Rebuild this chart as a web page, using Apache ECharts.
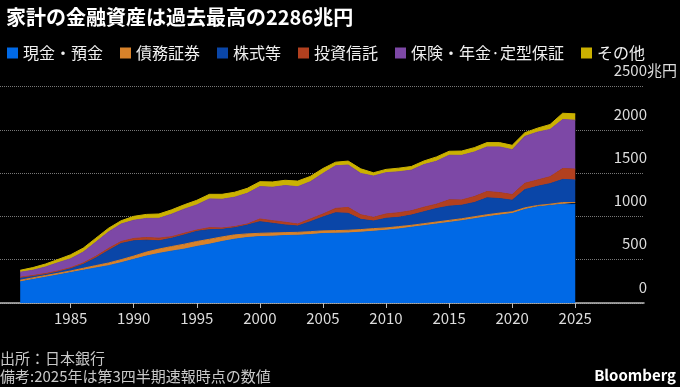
<!DOCTYPE html>
<html><head><meta charset="utf-8">
<script src="https://cdn.jsdelivr.net/npm/echarts@6/dist/echarts.min.js"></script>
<style>html,body{margin:0;padding:0;background:#000;}#c{width:680px;height:387px;}</style>
</head><body><div id="c"></div>
<script>
const years = [1981,1982,1983,1984,1985,1986,1987,1988,1989,1990,
  1991,1992,1993,1994,1995,1996,1997,1998,1999,2000,
  2001,2002,2003,2004,2005,2006,2007,2008,2009,2010,
  2011,2012,2013,2014,2015,2016,2017,2018,2019,2020,
  2021,2022,2023,2024,2025];
const cash = [244,271,298,324,351,378,405,431,466,504,
  542,573,599,622,653,679,710,737,756,767,
  771,779,782,790,802,805,809,817,828,840,
  855,874,893,912,931,950,973,996,1015,1034,
  1080,1111,1126,1141,1141];
const bonds = [19,19,19,19,19,23,27,31,34,38,
  46,50,53,57,57,57,53,50,42,38,
  38,34,34,34,31,31,31,31,31,27,
  27,23,23,23,23,23,23,23,23,19,
  19,15,15,19,19];
const equities = [27,19,15,19,27,46,88,145,187,176,
  137,95,95,107,118,111,88,84,103,134,
  111,88,73,115,160,206,195,118,88,111,
  107,118,137,156,164,156,164,195,168,134,
  210,221,237,267,260];
const trusts = [8,8,8,8,11,15,19,23,23,27,
  31,31,19,19,15,23,15,11,11,31,
  31,31,23,31,34,50,69,53,42,50,
  53,50,53,50,73,61,69,73,69,65,
  73,73,80,126,126];
const insurance = [57,61,76,95,103,126,164,191,202,210,
  221,229,260,279,290,332,332,340,355,374,
  386,424,431,431,469,492,489,477,477,477,
  473,469,492,496,515,515,515,515,527,519,
  542,553,546,565,565];
const other = [23,31,34,38,46,46,46,42,38,46,
  46,50,50,50,53,53,57,57,57,57,
  61,61,65,61,57,42,46,53,38,38,
  42,42,42,50,46,50,50,50,50,50,
  42,46,57,73,73];
const seriesNames = ['現金・預金','債務証券','株式等','投資信託','保険・年金·定型保証','その他'];
const seriesValues = [cash, bonds, equities, trusts, insurance, other];
const colors = ['#0069E6','#D8822A','#0A46A8','#B2401F','#7D48A6','#CBB100'];
const xTicks = [1985,1990,1995,2000,2005,2010,2015,2020,2025];
const xMinYear = 1979.4, xMaxYear = 2030.45;
const yMax = 2500, yStep = 500, yUnit = '兆円';

const FONT = "'Noto Sans CJK JP','Noto Sans',sans-serif";
const chart = echarts.init(document.getElementById('c'), null, {renderer:'canvas'});
chart.setOption({
  backgroundColor: '#000',
  animation: false,
  title: {
    text: '家計の金融資産は過去最高の2286兆円',
    left: 1, top: 2,
    textStyle: {color:'#fff', fontSize: 20, fontWeight:'bold', fontFamily: FONT}
  },
  legend: {
    left: 2, top: 40, icon: 'rect', itemWidth: 11, itemHeight: 11, itemGap: 17,
    textStyle: {color:'#f0f0f0', fontSize: 16, fontFamily: FONT},
    data: seriesNames
  },
  grid: {left: 0, right: 33, top: 86.5, bottom: 84, containLabel: false},
  xAxis: {
    type: 'value', min: xMinYear, max: xMaxYear,
    axisLine: {show: true, lineStyle: {color: '#bbb', width: 1.5}},
    axisTick: {show: true, customValues: xTicks, length: 5, lineStyle: {color: '#bbb'}},
    axisLabel: {customValues: xTicks, color: '#ddd', fontSize: 15, margin: 8, fontFamily: FONT,
      formatter: v => String(v)},
    splitLine: {show: false}
  },
  yAxis: {
    type: 'value', position: 'right', min: 0, max: yMax, interval: yStep,
    axisLine: {show: false}, axisTick: {show: false},
    splitLine: {lineStyle: {color: '#777', type: 'dotted', width: 1}},
    axisLabel: {
      margin: 33, align: 'right', verticalAlign: 'bottom', padding: [0,0,7,0],
      formatter: v => v === yMax ? '{n|' + v + '}{u|' + yUnit + '}' : '{n|' + v + '}{h|' + yUnit + '}',
      rich: {
        n: {color: '#ddd', fontSize: 15, fontFamily: FONT, lineHeight: 18},
        u: {color: '#ddd', fontSize: 15, fontFamily: FONT, lineHeight: 18},
        h: {color: 'rgba(0,0,0,0)', fontSize: 15, fontFamily: FONT, lineHeight: 18}
      }
    }
  },
  graphic: [
    {type: 'text', left: 0, top: 351, style: {text: '出所：日本銀行', fill: '#c8c8c8', font: '15px ' + FONT}},
    {type: 'text', left: 0, top: 369, style: {text: '備考:2025年は第3四半期速報時点の数値', fill: '#c8c8c8', font: '15px ' + FONT}},
    {type: 'text', right: 4, top: 368, style: {text: 'Bloomberg', fill: '#fff', font: 'bold 15px ' + FONT}}
  ],
  series: seriesNames.map((name, k) => ({
    name, type: 'line', stack: 'total', symbol: 'none', showSymbol: false,
    data: years.map((y, i) => [seriesValues[k][i], y]),
    encode: {x: 1, y: 0},
    itemStyle: {color: colors[k]},
    lineStyle: {color: colors[k], width: 1},
    areaStyle: {color: colors[k], opacity: 1}
  }))
});
</script></body></html>
